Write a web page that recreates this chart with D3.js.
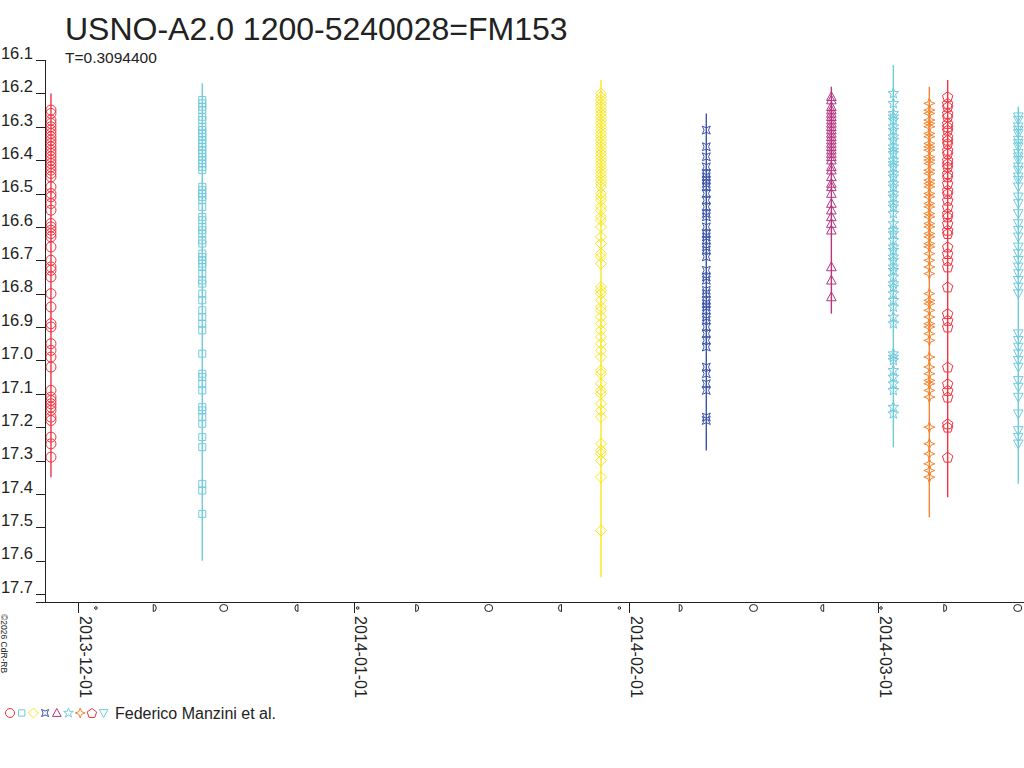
<!DOCTYPE html>
<html>
<head>
<meta charset="utf-8">
<title>USNO-A2.0 1200-5240028=FM153</title>
<script src="https://d3js.org/d3.v7.min.js"></script>
<style>
    body { margin: 0; background: #fff; }
    svg { display: block; font-family: "Liberation Sans", Arial, sans-serif; }
    .axis text { font-size: 16px; fill: #222; }
    .axis line, .axis path { stroke: #222; shape-rendering: crispEdges; }
</style>
</head>
<body>
<script>
// observing sessions (UTC), one symbol/colour per session
var sessionDates = [
    "2013-11-27T23:00", "2013-12-14T23:30", "2014-01-28T20:00",
    "2014-02-09T16:20", "2014-02-23T18:00", "2014-03-02T17:20",
    "2014-03-06T18:30", "2014-03-08T20:00", "2014-03-16T18:40"
];
var sessionSymbols = ["circle", "square", "diamond", "concave", "triangle", "star", "star4", "pentagon", "triangleDown"];
var sessionColors = ["#ef3340", "#6fcbdc", "#f8e71c", "#3d55a7", "#b5357f", "#6fcbdc", "#f4842f", "#ef3340", "#6fcbdc"];
// extent of the error bars per session (mag)
var errTop    = [16.20, 16.17, 16.16, 16.26, 16.18, 16.115, 16.18, 16.16, 16.24];
var errBottom = [17.35, 17.60, 17.65, 17.27, 16.86, 17.26, 17.47, 17.41, 17.37];

var mags1 = [16.25,16.26,16.28,16.29,16.30,16.31,16.32,16.33,16.34,16.35,16.36,16.37,16.38,16.39,16.40,16.41,16.42,16.43,16.44,16.45,
    16.48,16.50,16.51,16.53,16.55,16.59,16.60,16.61,16.62,16.63,16.66,16.70,16.72,16.73,16.75,16.80,16.84,16.89,16.90,
    16.95,16.97,16.99,17.02,17.09,17.11,17.12,17.13,17.14,17.15,17.17,17.18,17.23,17.25,17.29];
var mags2 = [16.22,16.23,16.24,16.25,16.27,16.28,16.30,16.31,16.32,16.33,16.34,16.35,16.36,16.37,16.38,16.39,16.40,16.41,16.42,16.43,
    16.48,16.49,16.50,16.51,16.52,16.54,16.57,16.58,16.60,16.61,16.62,16.64,16.65,16.68,16.69,16.70,16.71,16.72,16.74,
    16.76,16.77,16.80,16.82,16.85,16.87,16.89,16.91,16.98,17.04,17.05,17.07,17.09,17.14,17.15,17.17,17.19,17.23,17.26,
    17.37,17.39,17.46];
var mags3 = [16.20,16.21,16.22,16.23,16.24,16.25,16.26,16.27,16.28,16.29,16.30,16.31,16.32,16.33,16.34,16.35,16.36,16.37,16.38,16.39,
    16.40,16.41,16.42,16.43,16.44,16.45,16.46,16.47,16.48,16.50,16.51,16.52,16.54,16.55,16.57,16.58,16.60,16.63,16.65,
    16.68,16.69,16.71,16.78,16.79,16.80,16.82,16.84,16.85,16.87,16.89,16.91,16.93,16.95,16.97,16.99,17.03,17.04,
    17.07,17.09,17.10,17.13,17.15,17.17,17.25,17.27,17.28,17.30,17.35,17.51];
var mags4 = [16.31,16.36,16.39,16.42,16.44,16.45,16.46,16.47,16.48,16.50,16.52,16.54,16.56,16.57,16.60,16.62,16.63,16.64,16.66,16.67,
    16.69,16.73,16.75,16.76,16.79,16.80,16.82,16.83,16.84,16.85,16.87,16.88,16.90,16.92,16.94,16.96,17.02,17.04,
    17.07,17.09,17.17,17.18];
var mags5 = [16.21,16.22,16.24,16.25,16.26,16.27,16.28,16.29,16.30,16.31,16.32,16.33,16.34,16.35,16.36,16.37,16.38,16.39,16.40,
    16.42,16.43,16.45,16.47,16.48,16.50,16.53,16.55,16.57,16.59,16.61,16.72,16.76,16.81];
var mags6 = [16.20,16.23,16.26,16.27,16.28,16.30,16.31,16.33,16.34,16.36,16.37,16.38,16.40,16.41,16.42,16.44,16.45,16.47,16.48,
    16.50,16.51,16.53,16.54,16.56,16.59,16.61,16.62,16.64,16.66,16.67,16.69,16.70,16.72,16.73,16.75,16.77,16.78,
    16.80,16.82,16.84,16.87,16.89,16.98,16.99,17.00,17.03,17.05,17.07,17.09,17.14,17.16];
var mags7 = [16.23,16.25,16.26,16.28,16.29,16.30,16.32,16.33,16.35,16.36,16.37,16.39,16.40,16.41,16.43,16.44,16.46,16.47,16.48,
    16.50,16.51,16.53,16.54,16.56,16.57,16.59,16.60,16.62,16.63,16.65,16.66,16.68,16.70,16.72,16.74,16.80,16.82,
    16.83,16.85,16.87,16.89,16.90,16.92,16.94,16.99,17.02,17.04,17.06,17.07,17.09,17.11,17.20,17.25,17.28,17.31,17.33,17.35];
var mags8 = [16.21,16.23,16.24,16.26,16.27,16.29,16.30,16.31,16.33,16.34,16.35,16.37,16.38,16.40,16.41,16.42,16.44,16.45,16.47,
    16.49,16.50,16.52,16.54,16.56,16.57,16.59,16.61,16.62,16.66,16.68,16.70,16.72,16.78,16.86,16.88,16.90,17.02,
    17.07,17.09,17.11,17.19,17.20,17.29];
var mags9 = [16.27,16.28,16.30,16.31,16.32,16.34,16.35,16.36,16.38,16.39,16.40,16.42,16.43,16.45,16.46,16.48,16.51,16.53,16.56,
    16.59,16.61,16.63,16.66,16.68,16.70,16.72,16.74,16.76,16.78,16.80,16.92,16.94,16.96,16.98,17.00,17.02,17.06,17.08,
    17.11,17.16,17.21,17.23,17.25];
var sessionMags = [mags1, mags2, mags3, mags4, mags5, mags6, mags7, mags8, mags9];

// moon phases shown along the time axis
var moonDates = [
    "2013-12-03T00:22", "2013-12-09T15:12", "2013-12-17T09:28", "2013-12-25T13:48",
    "2014-01-01T11:14", "2014-01-08T03:39", "2014-01-16T04:52", "2014-01-24T05:19",
    "2014-01-30T21:38", "2014-02-06T19:21", "2014-02-14T23:53", "2014-02-22T17:15",
    "2014-03-01T08:00", "2014-03-08T13:27", "2014-03-16T17:08"
];
var moonPhases = ["new", "first", "full", "last", "new", "first", "full", "last",
    "new", "first", "full", "last", "new", "first", "full"];

var yTicks = [16.1, 16.2, 16.3, 16.4, 16.5, 16.6, 16.7, 16.8, 16.9, 17.0, 17.1, 17.2, 17.3, 17.4, 17.5, 17.6, 17.7];
var xTicks = ["2013-12-01", "2014-01-01", "2014-02-01", "2014-03-01"];

var titleText = "USNO-A2.0 1200-5240028=FM153";
var periodText = "T=0.3094400";
var creditText = "Federico Manzini et al.";
var copyText = "\u00a92026 CdR-RB";

var parseT = d3.utcParse("%Y-%m-%dT%H:%M");
var parseD = d3.utcParse("%Y-%m-%d");

var svgWidth = 1024, svgHeight = 768;
var svg = d3.select("body").append("svg")
    .attr("width", svgWidth)
    .attr("height", svgHeight);

var x = d3.scaleUtc()
    .domain([parseT("2013-11-26T06:36"), parseT("2014-03-17T10:05")])
    .range([36, 1024]);
var y = d3.scaleLinear().domain([16.1, 17.7]).range([60, 594]);
var axisY = 602;

var symbols = {
    circle: "M5,0A5,5 0 1,1 -5,0A5,5 0 1,1 5,0Z",
    square: "M-3.5,-3.5H3.5V3.5H-3.5Z",
    diamond: "M0,-5.5L5.5,0L0,5.5L-5.5,0Z",
    concave: "M-4,-4L0,-2.2L4,-4L2.2,0L4,4L0,2.2L-4,4L-2.2,0Z",
    triangle: "M0,-5L4.8,3.8H-4.8Z",
    star: (function () {
        var p = [];
        for (var i = 0; i < 10; i++) {
            var r = i % 2 ? 2.3 : 5.6, a = -Math.PI / 2 + i * Math.PI / 5;
            p.push((r * Math.cos(a)).toFixed(2) + "," + (r * Math.sin(a)).toFixed(2));
        }
        return "M" + p.join("L") + "Z";
    })(),
    star4: "M0,-5.5L1.5,-1.5L5.5,0L1.5,1.5L0,5.5L-1.5,1.5L-5.5,0L-1.5,-1.5Z",
    pentagon: (function () {
        var p = [];
        for (var i = 0; i < 5; i++) {
            var a = -Math.PI / 2 + i * 2 * Math.PI / 5;
            p.push((5.5 * Math.cos(a)).toFixed(2) + "," + (5.5 * Math.sin(a) + 0.5).toFixed(2));
        }
        return "M" + p.join("L") + "Z";
    })(),
    triangleDown: "M-4.8,-3.8H4.8L0,5Z"
};

// error bars + markers
var plot = svg.append("g");
sessionDates.forEach(function (d, i) {
    var t = parseT(d);
    var g = plot.append("g").attr("fill", "none").attr("stroke", sessionColors[i]);
    g.append("line")
        .attr("x1", x(t)).attr("x2", x(t))
        .attr("y1", y(errTop[i])).attr("y2", y(errBottom[i]))
        .attr("stroke-width", 1.4);
    g.selectAll("path")
        .data(sessionMags[i])
        .enter().append("path")
        .attr("d", symbols[sessionSymbols[i]])
        .attr("transform", function (m) { return "translate(" + x(t) + "," + y(m) + ")"; })
        .attr("stroke-width", 1);
});

// y axis
var gy = svg.append("g")
    .attr("class", "axis")
    .attr("transform", "translate(45,0)")
    .call(d3.axisLeft(y).tickValues(yTicks).tickSize(9).tickSizeOuter(0).tickFormat(d3.format(".1f")));
gy.select(".domain").remove();
gy.selectAll("text").attr("x", -12).attr("dy", "-0.1em").style("font-size", "16.5px");
svg.append("line")
    .attr("x1", 45).attr("x2", 45).attr("y1", y(16.1)).attr("y2", axisY)
    .attr("stroke", "#222").style("shape-rendering", "crispEdges");

// x axis
var gx = svg.append("g")
    .attr("class", "axis")
    .attr("transform", "translate(0," + axisY + ")")
    .call(d3.axisBottom(x).tickValues(xTicks.map(parseD)).tickSize(11).tickSizeOuter(0)
        .tickFormat(d3.utcFormat("%Y-%m-%d")));
gx.select(".domain").remove();
gx.selectAll(".tick text")
    .attr("y", 0).attr("dy", 0)
    .attr("text-anchor", "start")
    .attr("transform", "translate(1,14) rotate(90)");
svg.append("line")
    .attr("x1", 36).attr("x2", 1024).attr("y1", axisY).attr("y2", axisY)
    .attr("stroke", "#222").style("shape-rendering", "crispEdges");

// moon phases
var moonShapes = {
    "new": "M1.3,0A1.3,1.3 0 1,1 -1.3,0A1.3,1.3 0 1,1 1.3,0Z",
    first: "M-1.5,-3.5A3,3.5 0 0,1 -1.5,3.5Z",
    full: "M4,0A4,3.5 0 1,1 -4,0A4,3.5 0 1,1 4,0Z",
    last: "M1.5,-3.5A3,3.5 0 0,0 1.5,3.5Z"
};
svg.append("g")
    .selectAll("path")
    .data(moonDates)
    .enter().append("path")
    .attr("d", function (d, i) { return moonShapes[moonPhases[i]]; })
    .attr("transform", function (d) { return "translate(" + x(parseT(d)) + "," + (axisY + 6) + ")"; })
    .attr("fill", "none")
    .attr("stroke", "#222")
    .attr("stroke-width", 1);

// titles
svg.append("text").attr("x", 65).attr("y", 40)
    .style("font-size", "32px").attr("fill", "#222").text(titleText);
svg.append("text").attr("x", 65).attr("y", 63)
    .style("font-size", "15.5px").attr("fill", "#222").text(periodText);
svg.append("text")
    .attr("transform", "translate(1,614) rotate(90)")
    .style("font-size", "8.5px").attr("fill", "#222").text(copyText);

// legend
var legend = svg.append("g").attr("transform", "translate(0,713)");
sessionSymbols.forEach(function (s, i) {
    legend.append("path")
        .attr("d", symbols[s])
        .attr("transform", "translate(" + (10 + i * 11.7) + ",0) scale(0.9)")
        .attr("fill", "none")
        .attr("stroke", sessionColors[i])
        .attr("stroke-width", 1.1);
});
svg.append("text").attr("x", 115).attr("y", 719)
    .style("font-size", "16px").attr("fill", "#222").text(creditText);
</script>
</body>
</html>
